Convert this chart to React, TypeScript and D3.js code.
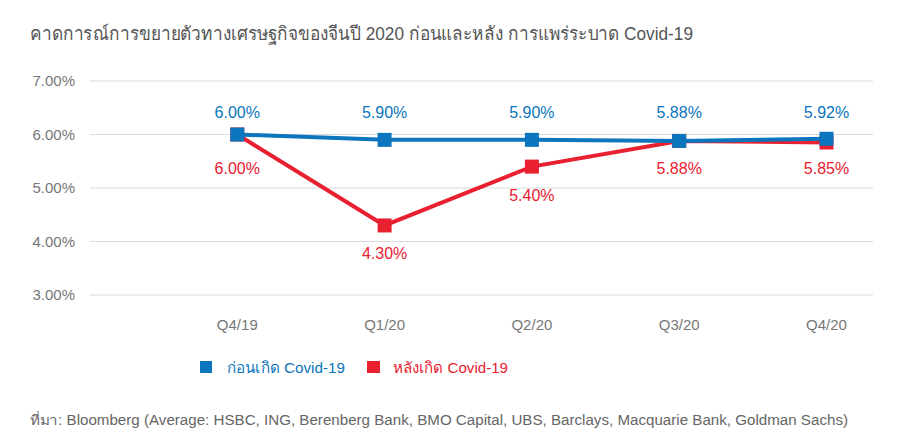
import React from "react";
import * as d3 from "d3";

const title = "คาดการณ์การขยายตัวทางเศรษฐกิจของจีนปี 2020 ก่อนและหลัง การแพร่ระบาด Covid-19";
const source = "ที่มา: Bloomberg (Average: HSBC, ING, Berenberg Bank, BMO Capital, UBS, Barclays, Macquarie Bank, Goldman Sachs)";
const categories = ["Q4/19", "Q1/20", "Q2/20", "Q3/20", "Q4/20"];
const beforeValues = [6.0, 5.9, 5.9, 5.88, 5.92];
const afterValues = [6.0, 4.3, 5.4, 5.88, 5.85];
const yTicks = [3, 4, 5, 6, 7];
const seriesNames = ["ก่อนเกิด Covid-19", "หลังเกิด Covid-19"];

const BLUE = "#0b75bd";
const RED = "#e8202f";
const FONT = "'Liberation Sans', 'Noto Sans', sans-serif";

export default function App() {
  const W = 904, H = 444;
  const left = 90, right = 873;
  const x = d3.scalePoint<string>().domain(["", ...categories]).range([left, left + 5 * 147.3]);
  const y = d3.scaleLinear().domain([3, 7]).range([295, 81]);
  const line = d3.line<number>().x((_, i) => x(categories[i])!).y((d) => y(d));
  const fmt = (v: number) => v.toFixed(2) + "%";
  const ms = 14;

  return (
    <svg width={W} height={H} style={{ position: "absolute", left: 0, top: 0, background: "#fff" }} fontFamily={FONT}>
      <text x={30} y={40} fontSize={19} fill="#555" textLength={663} lengthAdjust="spacingAndGlyphs">{title}</text>
      {yTicks.map((t) => (
        <g key={t}>
          <line x1={left} x2={right} y1={y(t)} y2={y(t)} stroke="#d9d9d9" strokeWidth={1} />
          <text x={75} y={y(t) + 5} textAnchor="end" fontSize={15} fill="#777">{t.toFixed(2) + "%"}</text>
        </g>
      ))}
      {categories.map((c) => (
        <text key={c} x={x(c)} y={330} textAnchor="middle" fontSize={15} fill="#777">{c}</text>
      ))}
      <path d={line(afterValues)!} fill="none" stroke={RED} strokeWidth={4} />
      {afterValues.map((v, i) => (
        <rect key={i} x={x(categories[i])! - ms / 2} y={y(v) - ms / 2} width={ms} height={ms} fill={RED} />
      ))}
      <path d={line(beforeValues)!} fill="none" stroke={BLUE} strokeWidth={4} />
      {beforeValues.map((v, i) => (
        <rect key={i} x={x(categories[i])! - ms / 2} y={y(v) - ms / 2} width={ms} height={ms} fill={BLUE} />
      ))}
      {beforeValues.map((v, i) => (
        <text key={i} x={x(categories[i])} y={y(6) - 17} textAnchor="middle" fontSize={16} fill={BLUE}>{fmt(v)}</text>
      ))}
      {afterValues.map((v, i) => (
        <text key={i} x={x(categories[i])} y={v > 5.7 ? y(6) + 39 : y(v) + 34} textAnchor="middle" fontSize={16} fill={RED}>{fmt(v)}</text>
      ))}
      <rect x={200} y={361} width={12} height={12} fill={BLUE} />
      <text x={227} y={373} fontSize={15} fill={BLUE} textLength={118} lengthAdjust="spacingAndGlyphs">{seriesNames[0]}</text>
      <rect x={367} y={361} width={13} height={12} fill={RED} />
      <text x={393} y={373} fontSize={15} fill={RED} textLength={115} lengthAdjust="spacingAndGlyphs">{seriesNames[1]}</text>
      <text x={30} y={425} fontSize={14} fill="#666" textLength={818} lengthAdjust="spacingAndGlyphs">{source}</text>
    </svg>
  );
}
